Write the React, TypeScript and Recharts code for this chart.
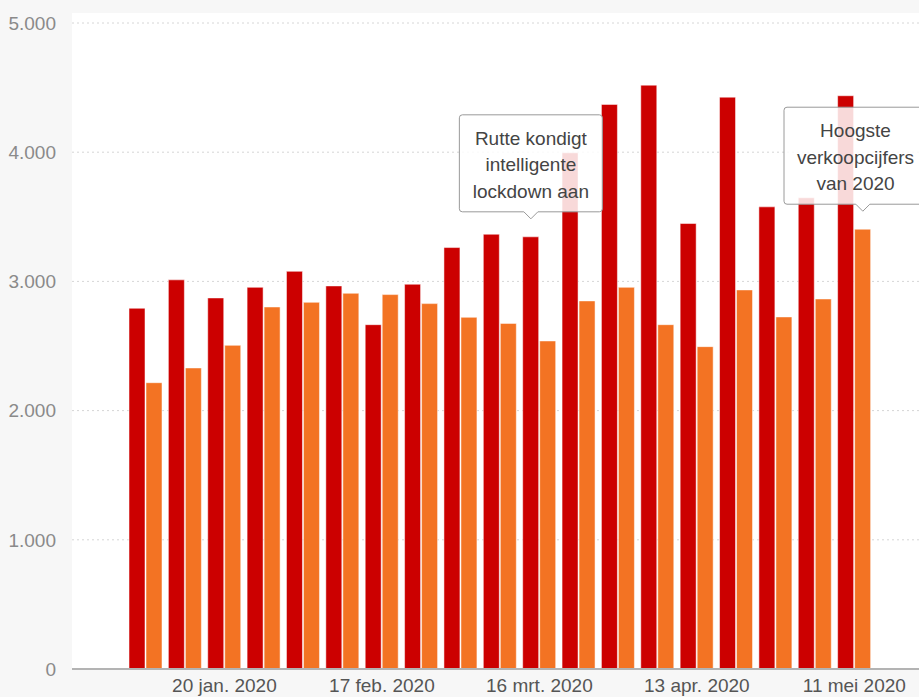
import React from "react";
import { BarChart, Bar, XAxis, YAxis, CartesianGrid, ReferenceDot } from "recharts";

const weeks = [
  "6 jan. 2020", "13 jan. 2020", "20 jan. 2020", "27 jan. 2020", "3 feb. 2020",
  "10 feb. 2020", "17 feb. 2020", "24 feb. 2020", "2 mrt. 2020", "9 mrt. 2020",
  "16 mrt. 2020", "23 mrt. 2020", "30 mrt. 2020", "6 apr. 2020", "13 apr. 2020",
  "20 apr. 2020", "27 apr. 2020", "4 mei 2020", "11 mei 2020",
];

const redValues = [
  2792, 3012, 2872, 2954, 3078, 2965, 2665, 2978, 3262, 3365,
  3345, 3995, 4370, 4519, 3448, 4426, 3577, 3647, 4437,
];

const orangeValues = [
  2216, 2330, 2505, 2802, 2838, 2908, 2898, 2828, 2722, 2675,
  2539, 2849, 2954, 2665, 2495, 2934, 2725, 2864, 3404,
];

const xTicks = ["20 jan. 2020", "17 feb. 2020", "16 mrt. 2020", "13 apr. 2020", "11 mei 2020"];
const yTicks = [0, 1000, 2000, 3000, 4000, 5000];

const annotations = [
  { week: "16 mrt. 2020", series: "red", lines: ["Rutte kondigt", "intelligente", "lockdown aan"] },
  { week: "11 mei 2020", series: "orange", lines: ["Hoogste", "verkoopcijfers", "van 2020"] },
];

const RED = "#cc0000";
const ORANGE = "#f37323";
const FONT = "'Liberation Sans', Arial, sans-serif";
const CHART_W = 927;
const CHART_H = 697;
const BAR_SIZE = 16;
const BAR_GAP = 1;

const data = weeks.map((week, i) => ({ week, red: redValues[i], orange: orangeValues[i] }));

const fmt = (v: number) => String(v).replace(/\B(?=(\d{3})+(?!\d))/g, ".");

function Callout({ cx, cy, lines, dx }: { cx: number; cy: number; lines: string[]; dx: number }) {
  const tipX = cx + dx;
  const tipY = cy - 18;
  const w = 143;
  const h = 97;
  const arrow = 7;
  const r = 3;
  let left = tipX - w / 2;
  if (left + w > CHART_W) left = CHART_W - w;
  const right = left + w;
  const bottom = tipY - arrow;
  const top = bottom - h;
  const d = [
    `M${left + r},${top}`, `H${right - r}`, `Q${right},${top} ${right},${top + r}`,
    `V${bottom - r}`, `Q${right},${bottom} ${right - r},${bottom}`,
    `H${tipX + arrow}`, `L${tipX},${tipY}`, `L${tipX - arrow},${bottom}`,
    `H${left + r}`, `Q${left},${bottom} ${left},${bottom - r}`,
    `V${top + r}`, `Q${left},${top} ${left + r},${top}`, "Z",
  ].join(" ");
  const mid = left + w / 2;
  return (
    <g>
      <path d={d} fill="rgba(255,255,255,0.85)" stroke="#9a9a9a" strokeWidth={1} />
      {lines.map((line, i) => (
        <text key={i} x={mid} y={top + 30 + i * 26.5} textAnchor="middle"
          fontFamily={FONT} fontSize={19} fill="#444">
          {line}
        </text>
      ))}
    </g>
  );
}

export default function App() {
  return (
    <div style={{ position: "absolute", left: 0, top: 0, width: 919, height: 697, overflow: "hidden", background: "#f7f7f7" }}>
      <div style={{ position: "absolute", left: 72, top: 13, width: 855, height: 656, background: "#fff" }} />
      <div style={{ position: "absolute", left: 0, top: 0 }}>
        <BarChart width={CHART_W} height={CHART_H} data={data}
          margin={{ top: 23, right: 0, bottom: 0, left: 0 }}
          barSize={BAR_SIZE} barGap={BAR_GAP}>
          <CartesianGrid vertical={false} stroke="#d6d6d6" strokeDasharray="2 3" />
          <XAxis
            dataKey="week"
            ticks={xTicks}
            height={28}
            padding={{ left: 54, right: 53 }}
            axisLine={{ stroke: "#b3b3b3", strokeWidth: 2 }}
            tickLine={false}
            tickSize={0}
            tickMargin={10}
            interval={0}
            tick={{ fill: "#555", fontSize: 19, fontFamily: FONT }}
          />
          <YAxis
            width={72}
            domain={[0, 5000]}
            ticks={yTicks}
            axisLine={false}
            tickLine={false}
            tickSize={0}
            tickMargin={16}
            tickFormatter={fmt}
            tick={{ fill: "#8a8a8a", fontSize: 19, fontFamily: FONT }}
          />
          <Bar dataKey="red" fill={RED} stroke="#fff" strokeOpacity={0.5} isAnimationActive={false} />
          <Bar dataKey="orange" fill={ORANGE} stroke="#fff" strokeOpacity={0.5} isAnimationActive={false} />
          {annotations.map((a) => {
            const i = weeks.indexOf(a.week);
            const value = a.series === "red" ? redValues[i] : orangeValues[i];
            const dx = (a.series === "red" ? -1 : 1) * (BAR_SIZE + BAR_GAP) / 2;
            return (
              <ReferenceDot key={a.week} x={a.week} y={value} r={0} ifOverflow="visible"
                shape={(p: any) => <Callout cx={p.cx} cy={p.cy} lines={a.lines} dx={dx} />} />
            );
          })}
        </BarChart>
      </div>
    </div>
  );
}
